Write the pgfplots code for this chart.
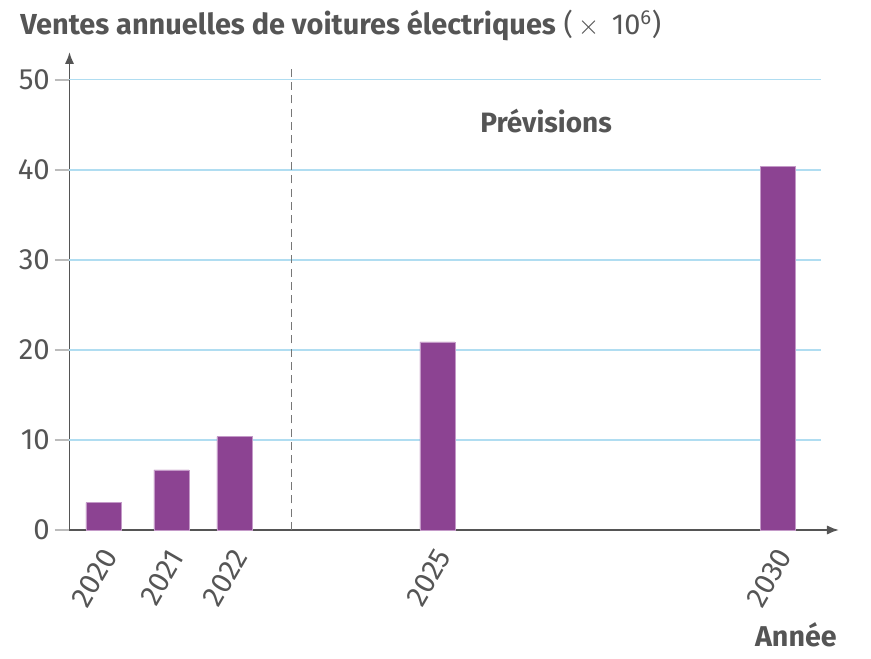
\documentclass[border=0pt]{standalone}
\usepackage{fontspec}
\setmainfont{Fira Sans}
\usepackage{pgfplots}
\pgfplotsset{compat=1.18}
\usetikzlibrary{arrows.meta}
\definecolor{txt}{HTML}{555555}
\definecolor{barc}{HTML}{8C4392}
\definecolor{barb}{HTML}{C49AC8}
\definecolor{gridc}{HTML}{B0DDF1}
\definecolor{tickc}{HTML}{BBBBBB}
\definecolor{dashc}{HTML}{777777}
\begin{document}
\begin{tikzpicture}
\useasboundingbox (-52.125pt,-96.75pt) rectangle (601.125pt,397.5pt);
\begin{axis}[
  at={(0pt,0pt)}, anchor=south west, scale only axis,
  width=577.1pt, height=358.5pt,
  xmin=2019.497, xmax=2030.9, ymin=0, ymax=53.1,
  axis lines=left,
  axis line style={txt, line width=1.4pt, -{Latex[length=9pt,width=7pt]}},
  tick align=outside,
  major tick length=11.25pt,
  ytick={0,10,20,30,40,50},
  ytick style={tickc, line width=1pt},
  xtick style={draw=none},
  xtick={2020,2021.007,2021.94,2024.95,2030},
  xticklabels={2020,2021,2022,2025,2030},
  /pgf/number format/assume math mode=true,
  yticklabel style={font=\fontsize{22}{26}\selectfont, text=txt},
  xticklabel style={xshift=-6.75pt, yshift=-24.5pt, rotate=60, anchor=center, font=\fontsize{22}{26}\selectfont, text=txt},
  clip=false,
]
\draw[gridc, line width=0.9pt] (axis cs:2019.497,10) -- (axis cs:2030.63,10);
\draw[gridc, line width=0.9pt] (axis cs:2019.497,20) -- (axis cs:2030.63,20);
\draw[gridc, line width=0.9pt] (axis cs:2019.497,30) -- (axis cs:2030.63,30);
\draw[gridc, line width=0.9pt] (axis cs:2019.497,40) -- (axis cs:2030.63,40);
\draw[gridc, line width=0.9pt] (axis cs:2019.497,50) -- (axis cs:2030.63,50);
\draw[dashc, line width=1.3pt, dash pattern=on 6pt off 4pt] (axis cs:2022.787,0) -- (axis cs:2022.787,51.44);
\addplot[ybar, bar width=26.25pt, fill=barc, draw=barb, line width=0.5pt]
  coordinates {(2020,3.03) (2021.007,6.67) (2021.94,10.37) (2024.95,20.9) (2030,40.37)};
\node[anchor=base, inner sep=0pt, font=\bfseries\fontsize{21}{25}\selectfont, text=txt] at (axis cs:2026.56,44.14) {Prévisions};
\end{axis}
\node[anchor=base west, inner sep=0pt, text=txt, font=\fontsize{21.7}{26}\selectfont] at (-37.1pt,371.25pt) {\textbf{Ventes annuelles de voitures électriques} (\,$\times$\, 10\textsuperscript{6})};
\node[anchor=base east, inner sep=0pt, font=\bfseries\fontsize{21.5}{26}\selectfont, text=txt] at (575.6pt,-87.75pt) {Année};
\end{tikzpicture}
\end{document}
